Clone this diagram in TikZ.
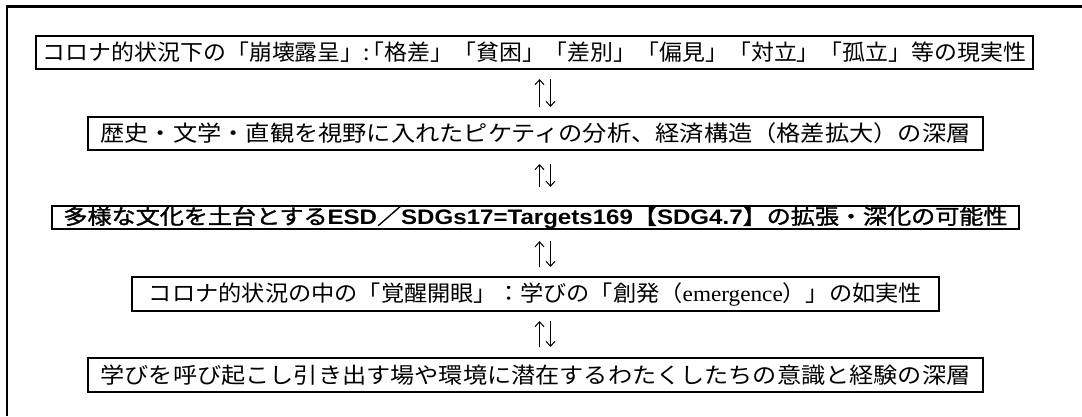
\documentclass[tikz,border=0pt]{standalone}
\usepackage{fontspec}
\usepackage{graphicx}
\usetikzlibrary{arrows.meta}
\newfontfamily\jp{Noto Sans CJK JP}
\newfontfamily\jpm[FakeBold=1.4]{Noto Sans CJK JP}
\newfontfamily\lat{Liberation Serif}
\newfontfamily\lsans{Liberation Sans}
\newcommand\fitw[2]{\resizebox{#1}{\height}{#2}}
\newcommand\ls[1]{{\lsans\bfseries #1}}
\tikzset{
  box/.style={draw, line width=2pt, inner sep=0pt, minimum height=33pt,
    font=\jp\fontsize{22}{22}\selectfont},
  arr/.style={line width=1pt, -{Straight Barb[length=5pt,width=9pt]}},
  frame/.style={line width=2.6pt}
}
\begin{document}
\begin{tikzpicture}[x=1pt,y=-1pt]
\useasboundingbox (0,0) rectangle (1082,416);
\draw[frame] (7,416) -- (7,6.5) -- (1082,6.5);

\node[box, minimum width=997pt] (b1) at (534.5,52.5)
  {\fitw{983pt}{コロナ的状況下の「崩壊露呈」:\kern-8pt「格差」「貧困」「差別」「偏見」「対立」「孤立」等の現実性}};
\node[box, minimum width=895pt] (b2) at (535.5,133.5)
  {\fitw{870pt}{歴史・文学・直観を視野に入れたピケティの分析、経済構造（格差拡大）の深層}};
\node[box, minimum width=967pt, minimum height=22pt, font=\jpm\fontsize{21}{21}\selectfont] (b3) at (535.5,217.5)
  {\fitw{944pt}{多様な文化を土台とする\ls{ESD}／\ls{SDGs17=Targets169}【\ls{SDG4.7}】の拡張・深化の可能性}};
\node[box, minimum width=807pt, minimum height=34pt] (b4) at (535.5,294)
  {\fitw{773pt}{コロナ的状況の中の「覚醒開眼」：学びの「創発（{\lat emergence}）」の如実性}};
\node[box, minimum width=895pt, minimum height=34pt] (b5) at (535.5,375)
  {\fitw{870pt}{学びを呼び起こし引き出す場や環境に潜在するわたくしたちの意識と経験の深層}};

% arrows b1 <-> b2
\draw[arr, shorten <=9pt, shorten >=9pt] ([xshift=4pt]b2.north) -- ([xshift=4pt]b2.north |- b1.south);
\draw[arr, shorten <=9pt, shorten >=9pt] ([xshift=15pt]b2.north |- b1.south) -- ([xshift=15pt]b2.north);
% b2 <-> b3
\draw[arr, shorten <=18.5pt, shorten >=13pt] ([xshift=4pt]b3.north) -- ([xshift=4pt]b3.north |- b2.south);
\draw[arr, shorten <=13pt, shorten >=18.5pt] ([xshift=15pt]b3.north |- b2.south) -- ([xshift=15pt]b3.north);
% b3 <-> b4
\draw[arr, shorten <=9pt, shorten >=11.5pt] ([xshift=4pt]b4.north) -- ([xshift=4pt]b4.north |- b3.south);
\draw[arr, shorten <=11.5pt, shorten >=9pt] ([xshift=15pt]b4.north |- b3.south) -- ([xshift=15pt]b4.north);
% b4 <-> b5
\draw[arr, shorten <=10pt, shorten >=9pt] ([xshift=4pt]b5.north) -- ([xshift=4pt]b5.north |- b4.south);
\draw[arr, shorten <=9pt, shorten >=10pt] ([xshift=15pt]b5.north |- b4.south) -- ([xshift=15pt]b5.north);
\end{tikzpicture}
\end{document}
